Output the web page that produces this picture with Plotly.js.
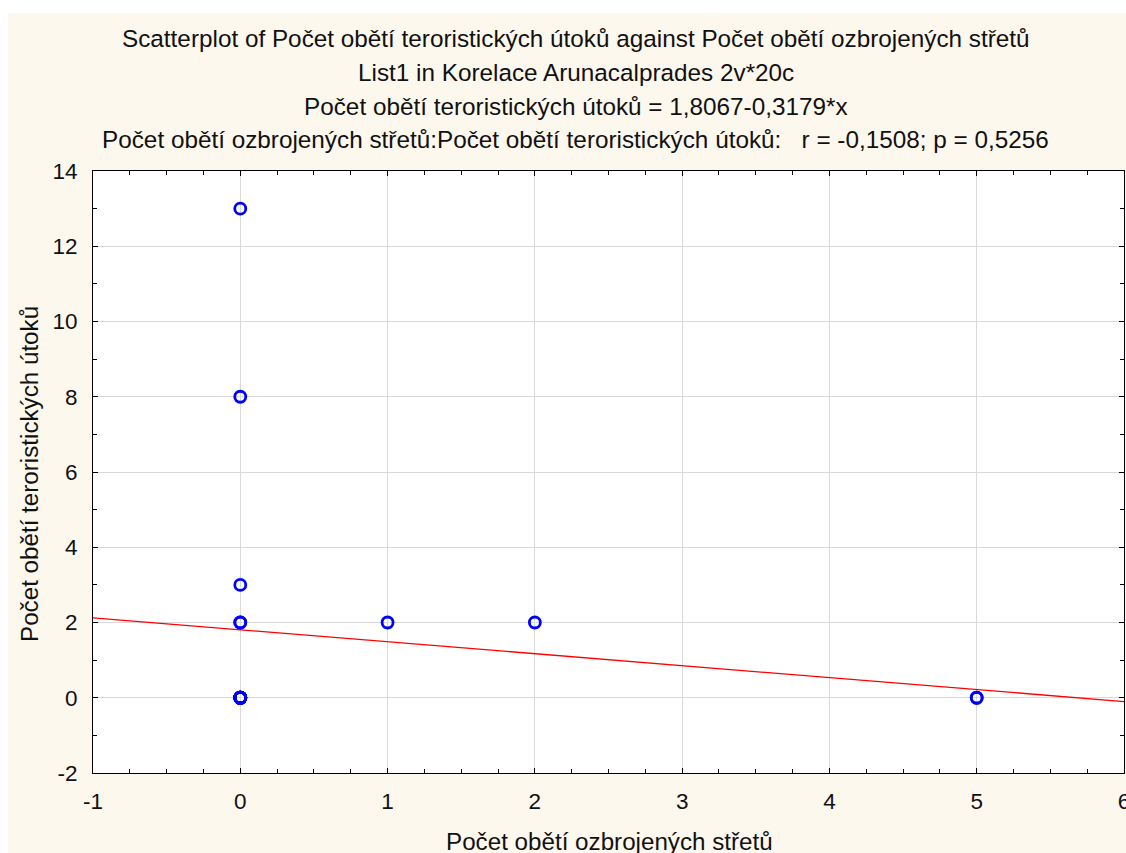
<!DOCTYPE html>
<html>
<head>
<meta charset="utf-8">
<script src="https://cdn.plot.ly/plotly-3.0.1.min.js"></script>
<style>
html, body { margin: 0; padding: 0; background: #ffffff; }
#chart { position: absolute; left: 8px; top: 13px; width: 1118px; height: 840px; }
</style>
</head>
<body>
<div id="chart"></div>
<script>
// Data (20 cases)
const armedClashVictims = [0,0,0,0,0,0,0,0,0,0,0,0,0,0,0,0,1,2,5,5];
const terrorVictims     = [13,8,3,2,2,0,0,0,0,0,0,0,0,0,0,0,2,2,0,0];

// Regression line as printed in the title
const intercept = 1.8067;
const slope = -0.3179;
const lineX = [-1, 6];
const lineY = lineX.map(x => intercept + slope * x);

// Tick labels (hyphen minus as in the original)
const xTickVals = [-1, 0, 1, 2, 3, 4, 5, 6];
const xTickText = ["-1", "0", "1", "2", "3", "4", "5", "6"];
const yTickVals = [-2, 0, 2, 4, 6, 8, 10, 12, 14];
const yTickText = ["-2", "0", "2", "4", "6", "8", "10", "12", "14"];

const titleLines = [
  "Scatterplot of Počet obětí teroristických útoků against Počet obětí ozbrojených střetů",
  "List1 in Korelace Arunacalprades 2v*20c",
  "Počet obětí teroristických útoků = 1,8067-0,3179*x",
  "Počet obětí ozbrojených střetů:Počet obětí teroristických útoků:   r = -0,1508; p = 0,5256"
];
const xTitle = "Počet obětí ozbrojených střetů";
const yTitle = "Počet obětí teroristických útoků";

// plot area in page pixels
const PL = 93, PR = 1124, PT = 171, PB = 773;
const px = x => (x - PL) / (PR - PL);
const py = y => (PB - y) / (PB - PT);

const FONT = "Liberation Sans, Arial, sans-serif";
const titleY = [39, 73, 106.5, 139];

const annotations = titleLines.map((t, i) => ({
  text: t.replace(/   /g, "&nbsp;&nbsp;&nbsp;"),
  xref: "paper", yref: "paper",
  x: px(575.5), y: py(titleY[i]),
  xanchor: "center", yanchor: "middle",
  showarrow: false,
  font: { family: FONT, size: 24.3, color: "#111111" }
}));
annotations.push({
  text: xTitle, xref: "paper", yref: "paper",
  x: px(609), y: py(841), xanchor: "center", yanchor: "middle",
  showarrow: false, font: { family: FONT, size: 24.2, color: "#111111" }
});
annotations.push({
  text: yTitle, xref: "paper", yref: "paper",
  x: px(29), y: py(474), xanchor: "center", yanchor: "middle", textangle: -90,
  showarrow: false, font: { family: FONT, size: 24.2, color: "#111111" }
});

const traces = [
  {
    x: lineX, y: lineY, type: "scatter", mode: "lines",
    line: { color: "#ff0000", width: 1.3 }, hoverinfo: "skip"
  },
  {
    x: armedClashVictims, y: terrorVictims, type: "scatter", mode: "markers",
    marker: { symbol: "circle-open", size: 11, color: "#0000ff", line: { width: 2.8, color: "#0000ff" } }
  }
];

const axisCommon = {
  showline: true, linecolor: "#000000", linewidth: 1, mirror: "ticks",
  ticks: "inside", ticklen: 5, tickcolor: "#000000", tickwidth: 1,
  showgrid: true, gridcolor: "#d9d9d9", gridwidth: 1,
  zeroline: false, ticklabeloverflow: "allow",
  tickmode: "array",
  tickfont: { family: FONT, size: 22.5, color: "#111111" }
};

const layout = {
  width: 1118, height: 840,
  margin: { l: PL - 8, r: 1126 - PR, t: PT - 13, b: 853 - PB },
  paper_bgcolor: "#fdf8ee",
  plot_bgcolor: "#ffffff",
  showlegend: false,
  xaxis: Object.assign({}, axisCommon, {
    range: [-1, 6], tickvals: xTickVals, ticktext: xTickText, ticklabelstandoff: 8,
    minor: { dtick: 0.25, tick0: -1, ticks: "inside", ticklen: 4, tickcolor: "#000000", showgrid: false }
  }),
  yaxis: Object.assign({}, axisCommon, {
    range: [-2, 14], tickvals: yTickVals, ticktext: yTickText, ticklabelstandoff: 10,
    minor: { dtick: 1, tick0: -2, ticks: "inside", ticklen: 4, tickcolor: "#000000", showgrid: false }
  }),
  annotations: annotations
};

Plotly.newPlot("chart", traces, layout, { displayModeBar: false, staticPlot: true });
</script>
</body>
</html>
